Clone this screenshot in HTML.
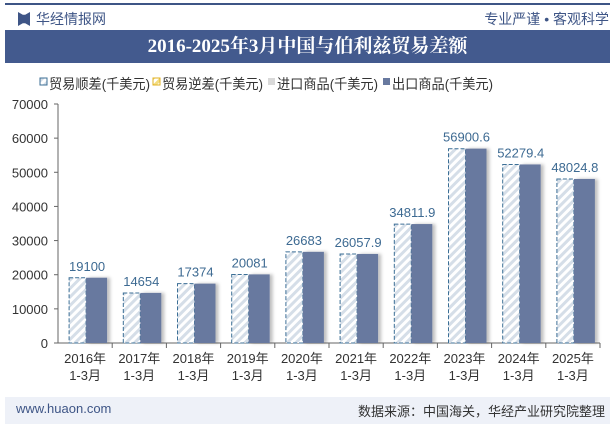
<!DOCTYPE html>
<html><head><meta charset="utf-8"><style>
body{margin:0;width:615px;height:427px;background:#fff;font-family:"Liberation Sans","Noto Sans CJK SC",sans-serif;overflow:hidden;position:relative}
.abs{position:absolute}
</style></head><body>
<div class="abs" style="left:5px;top:3px;width:605px;height:2px;background:#3e5586"></div>
<div class="abs" style="left:18px;top:12px;width:12px;height:14px;background:#3e5586;clip-path:polygon(0 0,40% 20%,60% 20%,100% 0,100% 100%,60% 80%,40% 80%,0 100%)"></div>
<div class="abs" style="left:36px;top:9px;font-size:14px;color:#3e5586">华经情报网</div>
<div class="abs" style="right:6px;top:9px;font-size:14px;color:#3e5586">专业严谨 • 客观科学</div>
<div class="abs" style="left:5px;top:30px;width:605px;height:33px;background:#435a8e;color:#fff;font-family:'Liberation Serif','Noto Serif CJK SC',serif;font-weight:bold;font-size:19px;text-align:center;line-height:33px">2016-2025年3月中国与伯利兹贸易差额</div>
<svg class="abs" style="left:0;top:0" width="615" height="427">
<defs><pattern id="h" width="6" height="6" patternUnits="userSpaceOnUse" patternTransform="rotate(45)"><rect width="6" height="6" fill="#fff"/><rect width="3" height="6" fill="#d5dee8"/></pattern>
<pattern id="hy" width="6" height="6" patternUnits="userSpaceOnUse" patternTransform="rotate(45)"><rect width="6" height="6" fill="#fff"/><rect width="3" height="6" fill="#f3dd80"/></pattern>
<filter id="sh" x="-20%" y="-5%" width="160%" height="110%"><feDropShadow dx="3" dy="0" stdDeviation="1.5" flood-color="#000" flood-opacity="0.25"/></filter></defs>
<g id="legend" font-size="14" fill="#333"></g>
<g id="axes"></g><g id="bars"></g>
</svg>
<div class="abs" style="left:5px;top:397px;width:605px;height:27px;background:#eef1f8"></div>
<div class="abs" style="left:16px;top:401px;font-size:13px;color:#3e5586">www.huaon.com</div>
<div class="abs" style="right:10px;top:401px;font-size:13px;color:#333">数据来源：中国海关，华经产业研究院整理</div>
<script>
const categories=["2016年","2017年","2018年","2019年","2020年","2021年","2022年","2023年","2024年","2025年"];
const surplus=[19100,14654,17374,20081,26683,26057.9,34811.9,56900.6,52279.4,48024.8];
const exports=[19120,14670,17390,20100,26700,26080,34840,56930,52300,48050];
const imports=[20,16,16,19,17,22,28,29,21,25];
const surplusLabels=["19100","14654","17374","20081","26683","26057.9","34811.9","56900.6","52279.4","48024.8"];
const yTicks=[0,10000,20000,30000,40000,50000,60000,70000];
const NS="http://www.w3.org/2000/svg";
const x0=58,x1=600,y0=343,yTop=104,yMax=70000;
const y=v=>y0-(v/yMax)*(y0-yTop);
const band=(x1-x0)/categories.length;
function mk(t,a,p,txt){const e=document.createElementNS(NS,t);for(const k in a)e.setAttribute(k,a[k]);if(txt!=null)e.textContent=txt;p.appendChild(e);return e;}
const ax=document.getElementById('axes'),bg=document.getElementById('bars'),lg=document.getElementById('legend');
let e=mk('line',{x1:x0,y1:yTop,x2:x0,y2:y0,stroke:'#666'},ax);

e=mk('line',{x1:x0,y1:y0,x2:x1,y2:y0,stroke:'#666'},ax);

yTicks.forEach(v=>{
 const t=mk('text',{x:x0-10,y:y(v)+5,'text-anchor':'end','font-size':13,fill:'#333'},ax,String(v));
 
 mk('line',{x1:x0-4,y1:y(v),x2:x0,y2:y(v),stroke:'#666'},ax);
});
categories.forEach((c,i)=>{
 const gx=x0+band*i, cx=gx+band/2;
 const bx=cx+2;
 mk('line',{x1:gx+band,y1:y0,x2:gx+band,y2:y0+5,stroke:'#666'},ax);
 let t=mk('text',{x:cx,y:y0+20,'text-anchor':'middle','font-size':13,fill:'#333'},ax,c);
 
 t=mk('text',{x:cx,y:y0+37,'text-anchor':'middle','font-size':13,fill:'#333'},ax,'1-3月');
 
 let r=mk('rect',{x:bx-18,y:y(surplus[i]),width:17,height:y0-y(surplus[i]),fill:'url(#h)',stroke:'#3c6f96','stroke-dasharray':'4,2','stroke-width':1},bg);
 
 r=mk('rect',{x:bx-1,y:y(imports[i]),width:21,height:y0-y(imports[i]),fill:'#d9d9d9'},bg);
 
 r=mk('rect',{x:bx-1,y:y(exports[i]),width:21,height:y0-y(exports[i]),fill:'#68799f',filter:'url(#sh)'},bg);
 
 t=mk('text',{x:bx,y:y(surplus[i])-7,'text-anchor':'middle','font-size':13,fill:'#3d6a92'},bg,surplusLabels[i]);
 
});
const leg=[["贸易顺差(千美元)","url(#h)","#3c6f96",40],["贸易逆差(千美元)","url(#hy)","#e0b020",153],["进口商品(千美元)","#d9d9d9","none",268],["出口商品(千美元)","#68799f","none",383]];
leg.forEach(l=>{
 const g=mk('g',{},lg);
 
 mk('rect',{x:l[3],y:78,width:7,height:7,fill:l[1],stroke:l[2]},g);
 mk('text',{x:l[3]+9,y:89,'font-size':14,fill:'#333',textLength:101,lengthAdjust:'spacingAndGlyphs'},g,l[0]);
});
</script>
</body></html>
